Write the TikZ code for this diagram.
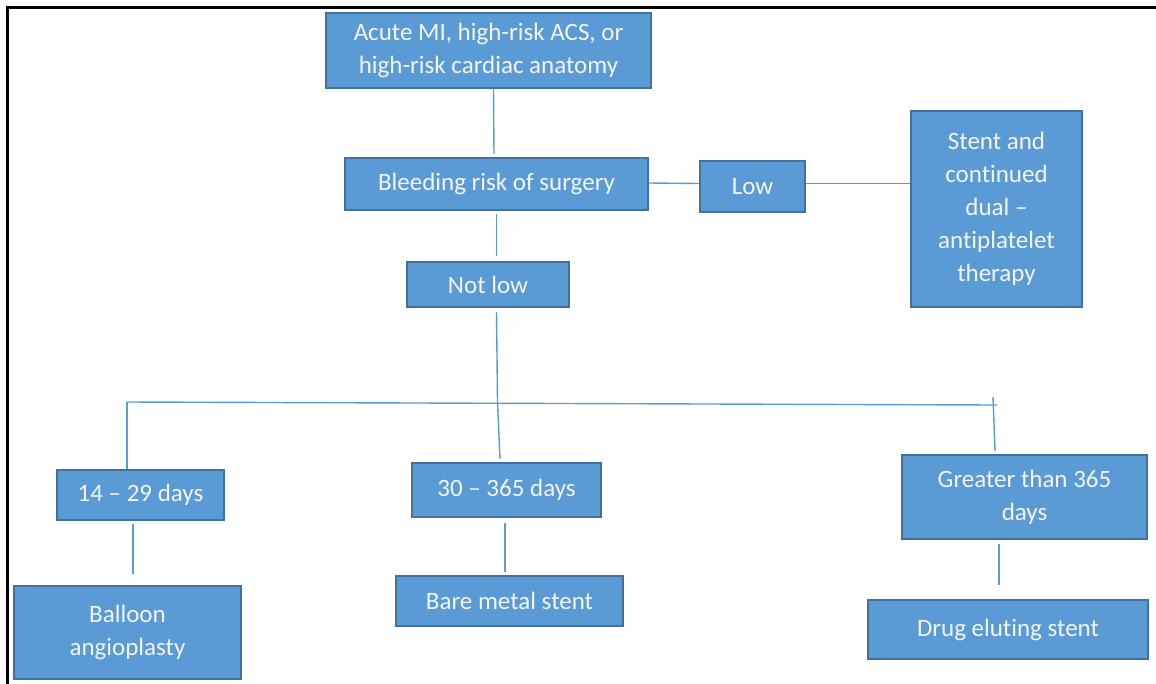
\documentclass[tikz,border=0pt]{standalone}
\usepackage{fontspec}
\setmainfont[Ligatures=NoCommon,RawFeature={-liga;-clig;-dlig}]{Carlito}
\definecolor{boxfill}{HTML}{5B9BD5}
\definecolor{boxline}{HTML}{41719C}
\definecolor{conn}{HTML}{5B9BD5}
\definecolor{txt}{HTML}{F4F4F4}
\tikzset{
  fbox/.style={draw=boxline, line width=2pt, fill=boxfill, text=txt,
    inner sep=0pt, align=center, font=\fontsize{25}{33}\selectfont},
  cline/.style={draw=conn, line width=1.4pt}
}
\begin{document}
\begin{tikzpicture}[x=1pt,y=-1pt]
\useasboundingbox (0,0) rectangle (1156,683);
% frame
\coordinate (fa) at (7,690);
\coordinate (fb) at (7,7);
\coordinate (fc) at (1160,7);
\draw[black, line width=3pt] (fa) -- (fb) -- (fc);

\node[fbox, minimum width=325pt, minimum height=75pt] (top) at (488.5,50.5) {Acute MI, high-risk ACS, or\\high-risk cardiac anatomy};
\node[fbox, minimum width=303pt, minimum height=52pt] (bleed) at (496.5,184) {Bleeding risk of surgery};
\node[fbox, minimum width=105pt, minimum height=51pt] (low) at (752.5,186.5) {Low};
\node[fbox, minimum width=171pt, minimum height=196pt] (stent) at (996.5,209) {Stent and\\continued\\dual –\\antiplatelet\\therapy};
\node[fbox, minimum width=162pt, minimum height=45pt] (notlow) at (488,284.5) {Not low};
\node[fbox, minimum width=167pt, minimum height=50pt] (d14) at (140.5,495) {14 – 29 days};
\node[fbox, minimum width=189pt, minimum height=54pt] (d30) at (506.5,490) {30 – 365 days};
\node[fbox, minimum width=245pt, minimum height=84pt] (great) at (1024.5,497) {Greater than 365\\days};
\node[fbox, minimum width=227pt, minimum height=93pt] (balloon) at (127.5,632.5) {Balloon\\angioplasty};
\node[fbox, minimum width=227pt, minimum height=50pt] (bare) at (509.5,601) {Bare metal stent};
\node[fbox, minimum width=280pt, minimum height=59pt] (drug) at (1008,629.5) {Drug eluting stent};

\coordinate (hub) at (497.5,402);
\coordinate (hL) at (127,402);
\coordinate (hR) at (997,405);
\coordinate (hRtop) at (993,397);

\draw[cline] ([xshift=5pt]top.south) -- ([xshift=-2.5pt,yshift=3pt]bleed.north);
\draw[cline] ([yshift=1pt]bleed.east) -- ([yshift=3pt]low.west);
\draw[cline] ([yshift=3pt]low.east) -- ([yshift=3pt]low.east -| stent.west);
\draw[cline] ([yshift=-3pt]bleed.south) -- ([xshift=8.5pt,yshift=5pt]notlow.north);
\draw[cline] ([xshift=8.5pt,yshift=-4pt]notlow.south) -- (hub);
\draw[cline] (hL) -- (hR);
\draw[cline] (hL) -- ([xshift=-13.5pt]d14.north);
\draw[cline] (hub) -- ([xshift=-6.5pt,yshift=3pt]d30.north);
\draw[cline] (hRtop) -- ([xshift=-29.5pt,yshift=3pt]great.north);
\draw[cline] ([xshift=-7.5pt,yshift=-3pt]d14.south) -- ([xshift=5.5pt,yshift=11pt]balloon.north);
\draw[cline] ([xshift=-1.5pt,yshift=-5pt]d30.south) -- ([xshift=-4.5pt,yshift=3pt]bare.north);
\draw[cline] ([xshift=-25.5pt,yshift=-4pt]great.south) -- ([xshift=-9pt,yshift=14pt]drug.north);
\end{tikzpicture}
\end{document}
